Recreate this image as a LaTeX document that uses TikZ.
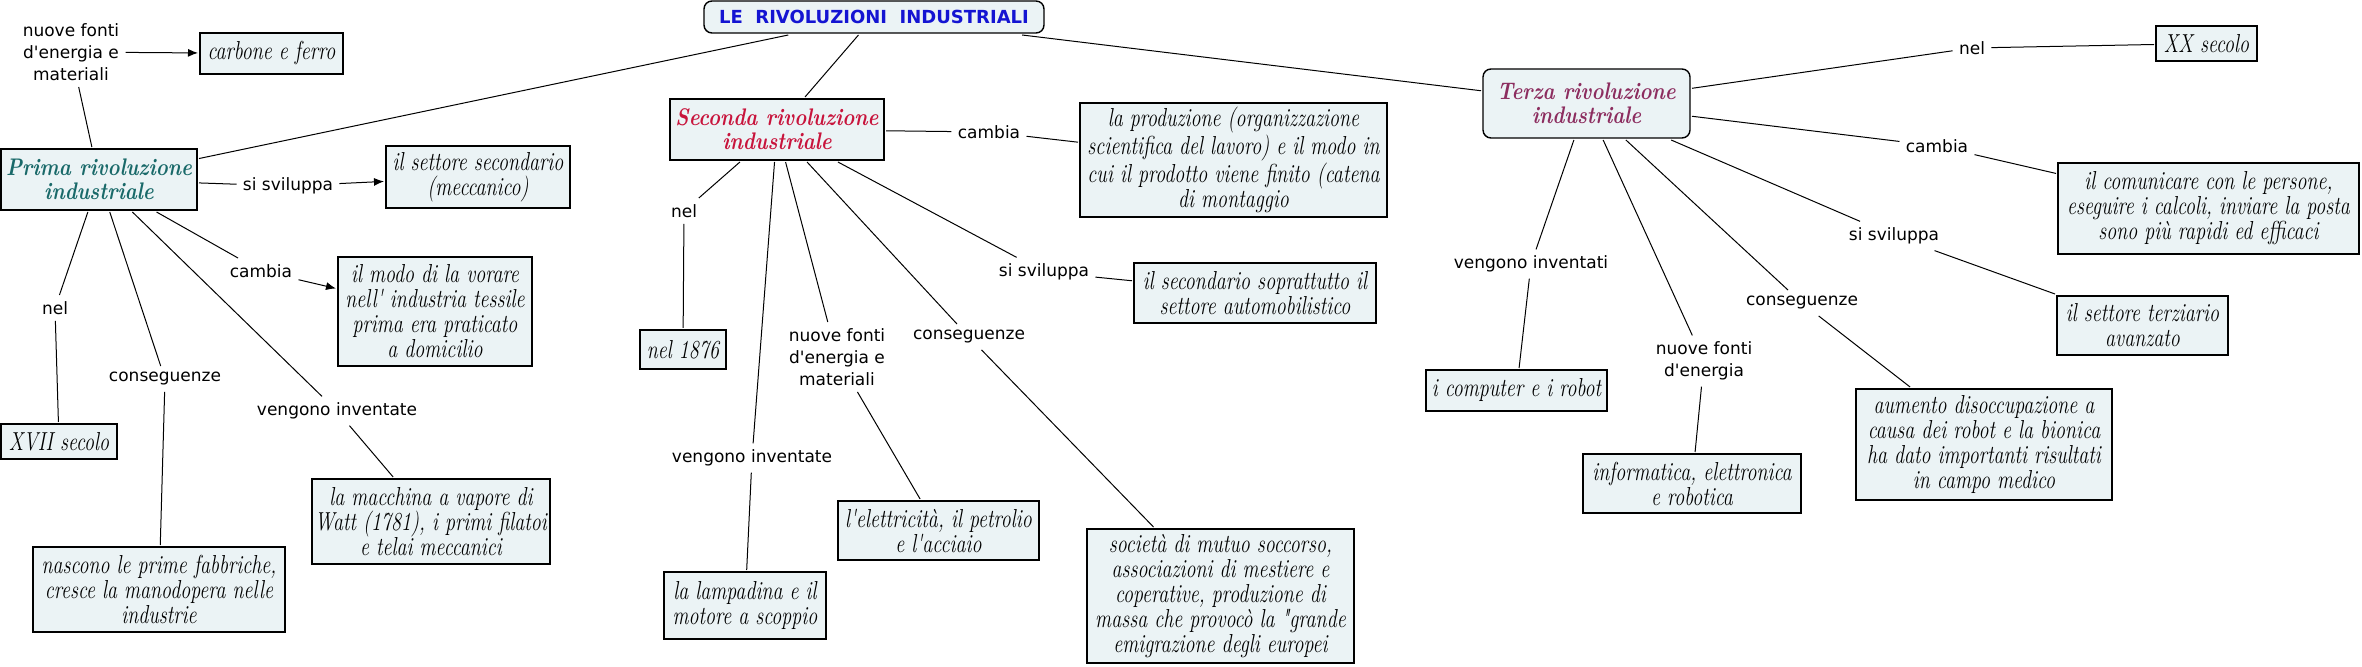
\documentclass[tikz,border=0pt]{standalone}
\usepackage{fontspec}
\setmainfont{Latin Modern Roman}
\newfontfamily\lblfont{DejaVu Sans}
\newfontfamily\boxfont[FakeStretch=0.77]{Latin Modern Roman}
\newfontfamily\ttlfont[FakeStretch=0.85]{Latin Modern Roman}
\usetikzlibrary{arrows.meta}
\definecolor{boxfill}{RGB}{235,243,245}
\definecolor{titleblue}{RGB}{20,20,210}
\definecolor{primacol}{RGB}{25,105,105}
\definecolor{secondacol}{RGB}{200,20,60}
\definecolor{terzacol}{RGB}{140,45,95}
\begin{document}
\begin{tikzpicture}[x=0.5pt,y=-0.5pt,
  box/.style={draw=black, line width=0.7pt, fill=boxfill, align=center, inner sep=1.5pt, outer sep=1pt,
    font=\boxfont\fontsize{13}{12.5}\selectfont\itshape},
  title/.style={box, font=\ttlfont\fontsize{12}{12}\selectfont\bfseries\itshape},
  lbl/.style={align=center, inner sep=3pt, font=\lblfont\fontsize{8.5}{11}\selectfont},
  conn/.style={line width=0.5pt},
  arr/.style={conn, -{Latex[length=5pt,width=4pt]}}]
\useasboundingbox (0,0) rectangle (2362,667);

% root
\node[box, rounded corners=4pt, minimum width=170pt, minimum height=16pt,
  font=\lblfont\bfseries\fontsize{9}{10}\selectfont, text=titleblue] (root) at (874,17) {LE\ \ RIVOLUZIONI\ \ INDUSTRIALI};

% Prima
\node[title, text=primacol, minimum width=98pt, minimum height=30.5pt] (prima) at (99,179.5) {Prima rivoluzione\\industriale};
\node[box, minimum width=71.5pt, minimum height=20.5pt] (carbone) at (271.5,53.5) {carbone e ferro};
\node[box, minimum width=92pt, minimum height=31pt] (secsett) at (478,177) {il settore secondario\\(meccanico)};
\node[box, minimum width=97pt, minimum height=54.5pt] (modo) at (435,311.5) {il modo di la vorare\\nell' industria tessile\\prima era praticato\\a domicilio};
\node[box, minimum width=58pt, minimum height=17.5pt] (xvii) at (59,441.5) {XVII secolo};
\node[box, minimum width=126pt, minimum height=42.5pt] (nascono) at (159,589.5) {nascono le prime fabbriche,\\cresce la manodopera nelle\\industrie};
\node[box, minimum width=119pt, minimum height=42.5pt] (macchina) at (431,521.5) {la macchina a vapore di\\Watt (1781), i primi filatoi\\e telai meccanici};

\node[lbl] (pnf) at (71,52) {nuove fonti\\d'energia e\\materiali};
\node[lbl] (psv) at (288,186) {si sviluppa};
\node[lbl] (pca) at (261,271) {cambia};
\node[lbl] (pnel) at (55,308) {nel};
\node[lbl] (pcon) at (165,379) {conseguenze};
\node[lbl] (pvi) at (337,411) {vengono inventate};

% Seconda
\node[title, text=secondacol, minimum width=107pt, minimum height=30.5pt] (seconda) at (777,129.5) {Seconda rivoluzione\\industriale};
\node[box, minimum width=153.5pt, minimum height=57pt] (produzione) at (1233.5,160) {la produzione (organizzazione\\scientifica del lavoro) e il modo in\\cui il prodotto viene finito (catena\\di montaggio};
\node[box, minimum width=121pt, minimum height=30pt] (secsopr) at (1255,293) {il secondario soprattutto il\\settore automobilistico};
\node[box, minimum width=43pt, minimum height=19.5pt] (n1876) at (683,349.5) {nel 1876};
\node[box, minimum width=81pt, minimum height=33.5pt] (lampadina) at (745,605.5) {la lampadina e il\\motore a scoppio};
\node[box, minimum width=100.5pt, minimum height=29.5pt] (elettricita) at (938.5,530.5) {l'elettricità, il petrolio\\e l'acciaio};
\node[box, minimum width=133.5pt, minimum height=67pt] (societa) at (1220.5,596) {società di mutuo soccorso,\\associazioni di mestiere e\\coperative, produzione di\\massa che provocò la "grande\\emigrazione degli europei};

\node[lbl] (sca) at (989,132) {cambia};
\node[lbl] (ssv) at (1044,272) {si sviluppa};
\node[lbl] (snel) at (684,211) {nel};
\node[lbl] (svi) at (752,458) {vengono inventate};
\node[lbl] (snf) at (837,357) {nuove fonti\\d'energia e\\materiali};
\node[lbl] (scon) at (969,337) {conseguenze};

% Terza
\node[title, rounded corners=4pt, text=terzacol, minimum width=103.5pt, minimum height=34.5pt] (terza) at (1586.5,103.5) {Terza rivoluzione\\industriale};
\node[box, minimum width=50.5pt, minimum height=17.5pt] (xx) at (2206.5,43.5) {XX secolo};
\node[box, minimum width=150.5pt, minimum height=45.5pt] (comunicare) at (2208.5,208.5) {il comunicare con le persone,\\eseguire i calcoli, inviare la posta\\sono più rapidi ed efficaci};
\node[box, minimum width=85.5pt, minimum height=29.5pt] (terziario) at (2142.5,325.5) {il settore terziario\\avanzato};
\node[box, minimum width=90.5pt, minimum height=20.5pt] (computer) at (1516.5,390.5) {i computer e i robot};
\node[box, minimum width=109pt, minimum height=29.5pt] (informatica) at (1692,483.5) {informatica, elettronica\\e robotica};
\node[box, minimum width=128pt, minimum height=55.5pt] (aumento) at (1984,444.5) {aumento disoccupazione a\\causa dei robot e la bionica\\ha dato importanti risultati\\in campo medico};

\node[lbl] (tnel) at (1972,48) {nel};
\node[lbl] (tca) at (1937,146) {cambia};
\node[lbl] (tsv) at (1894,236) {si sviluppa};
\node[lbl] (tvi) at (1531,264) {vengono inventati};
\node[lbl] (tnf) at (1704,361) {nuove fonti\\d'energia};
\node[lbl] (tcon) at (1802,303) {conseguenze};

% connectors
\draw[conn] (root) -- (prima);
\draw[conn] (root) -- (seconda);
\draw[conn] (root) -- (terza);

\draw[conn] (prima) -- (pnf);  \draw[arr] (pnf) -- (carbone);
\draw[conn] (prima) -- (psv);  \draw[arr] (psv) -- (secsett);
\draw[conn] (prima) -- (pca);  \draw[arr] (pca) -- (modo);
\draw[conn] (prima) -- (pnel); \draw[conn] (pnel) -- (xvii);
\draw[conn] (prima) -- (pcon); \draw[conn] (pcon) -- (nascono);
\draw[conn] (prima) -- (pvi);  \draw[conn] (pvi) -- (macchina);

\draw[conn] (seconda) -- (sca);  \draw[conn] (sca) -- (produzione);
\draw[conn] (seconda) -- (ssv);  \draw[conn] (ssv) -- (secsopr);
\draw[conn] (seconda) -- (snel); \draw[conn] (snel) -- (n1876);
\draw[conn] (seconda) -- (svi);  \draw[conn] (svi) -- (lampadina);
\draw[conn] (seconda) -- (snf);  \draw[conn] (snf) -- (elettricita);
\draw[conn] (seconda) -- (scon); \draw[conn] (scon) -- (societa);

\draw[conn] (terza) -- (tnel); \draw[conn] (tnel) -- (xx);
\draw[conn] (terza) -- (tca);  \draw[conn] (tca) -- (comunicare);
\draw[conn] (terza) -- (tsv);  \draw[conn] (tsv) -- (terziario);
\draw[conn] (terza) -- (tvi);  \draw[conn] (tvi) -- (computer);
\draw[conn] (terza) -- (tnf);  \draw[conn] (tnf) -- (informatica);
\draw[conn] (terza) -- (tcon); \draw[conn] (tcon) -- (aumento);
\end{tikzpicture}
\end{document}
